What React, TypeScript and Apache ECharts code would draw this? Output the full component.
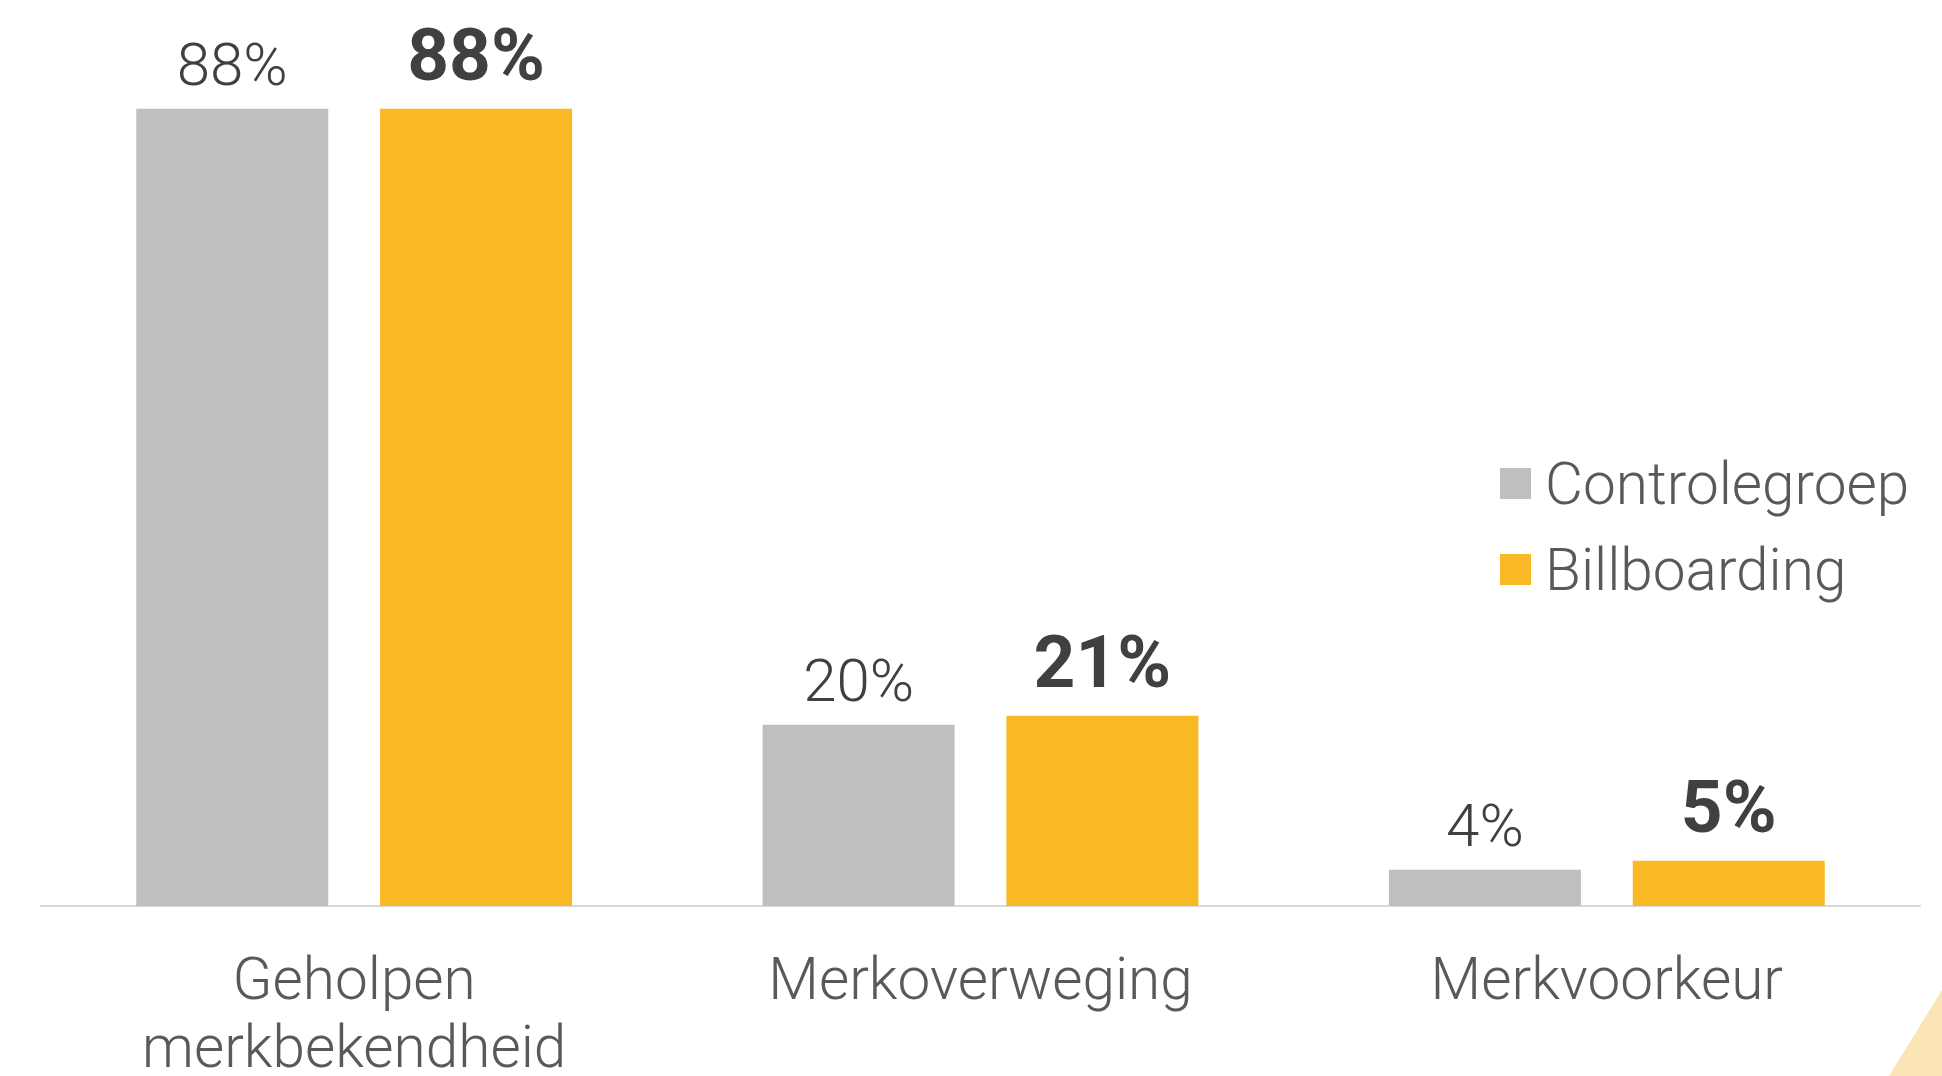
import React, { useEffect, useRef } from "react";
import * as echarts from "echarts";

const categories = ["Geholpen\nmerkbekendheid", "Merkoverweging", "Merkvoorkeur"];
const seriesNames = ["Controlegroep", "Billboarding"];
const controlValues = [88, 20, 4];
const billboardValues = [88, 21, 5];

const GRAY = "#bfbfbf";
const ORANGE = "#f8b925";
const FONT = "Roboto, 'Noto Sans', sans-serif";

export default function App() {
  const ref = useRef<HTMLDivElement>(null);
  useEffect(() => {
    if (!ref.current) return;
    const chart = echarts.init(ref.current, null, { renderer: "svg" });
    chart.setOption({
      animation: false,
      backgroundColor: "#ffffff",
      textStyle: { fontFamily: FONT },
      grid: {
        left: 41,
        right: 22,
        top: 0,
        bottom: 170,
        containLabel: false,
        outerBoundsMode: "none",
      },
      legend: {
        orient: "vertical",
        left: 1495,
        top: 449,
        itemWidth: 31,
        itemHeight: 31,
        itemGap: 27,
        icon: "rect",
        data: seriesNames,
        textStyle: {
          fontFamily: FONT,
          fontSize: 58.5,
          fontWeight: 300,
          color: "#595959",
          padding: [0, 0, 0, 9],
        },
      },
      xAxis: {
        type: "category",
        data: categories,
        axisLine: { lineStyle: { color: "#d9d9d9", width: 2 } },
        axisTick: { show: false },
        axisLabel: {
          fontFamily: FONT,
          fontSize: 58.5,
          fontWeight: 300,
          color: "#595959",
          lineHeight: 68,
          margin: 39,
          interval: 0,
        },
      },
      yAxis: {
        type: "value",
        min: 0,
        max: 100,
        show: false,
        splitLine: { show: false },
      },
      series: [
        {
          name: seriesNames[0],
          type: "bar",
          data: controlValues,
          barWidth: 192,
          barGap: "27%",
          itemStyle: { color: GRAY },
          label: {
            show: true,
            position: "top",
            distance: 14,
            formatter: "{c}%",
            fontFamily: FONT,
            fontSize: 60,
            fontWeight: 300,
            color: "#404040",
          },
        },
        {
          name: seriesNames[1],
          type: "bar",
          data: billboardValues,
          barWidth: 192,
          barGap: "27%",
          itemStyle: { color: ORANGE },
          label: {
            show: true,
            position: "top",
            distance: 17,
            formatter: "{c}%",
            fontFamily: FONT,
            fontSize: 73,
            fontWeight: "bold",
            color: "#404040",
          },
        },
      ],
      graphic: [
        {
          type: "polygon",
          shape: { points: [[1889, 1076], [1942, 990], [1942, 1076]] },
          style: { fill: "#fbe5b6" },
          silent: true,
        },
      ],
    });
    return () => chart.dispose();
  }, []);
  return (
    <div
      ref={ref}
      style={{ position: "absolute", left: 0, top: 0, width: 1942, height: 1076 }}
    />
  );
}
